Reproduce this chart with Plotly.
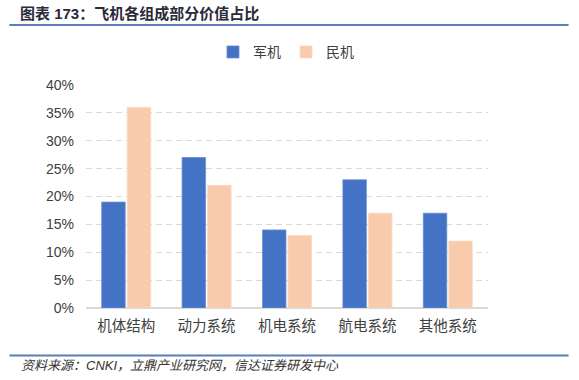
import plotly.graph_objects as go

categories = ["机体结构", "动力系统", "机电系统", "航电系统", "其他系统"]
military = [0.19, 0.27, 0.14, 0.23, 0.17]
civil = [0.36, 0.22, 0.13, 0.17, 0.12]
series_names = ["军机", "民机"]
y_ticks = [0, 0.05, 0.10, 0.15, 0.20, 0.25, 0.30, 0.35, 0.40]

W, H = 579, 380
L, R, T, B = 86.4, 91.4, 84.7, 72.0
pw, ph = W - L - R, H - T - B

def px(x):
    return (x - L) / pw

def py(y):
    return (H - B - y) / ph

FONT = "Liberation Sans, Arial, Noto Sans CJK SC, sans-serif"

fig = go.Figure()
fig.add_trace(go.Bar(x=categories, y=military, name=series_names[0],
                     marker=dict(color="#4472C4", line=dict(color="#6a8fd3", width=0.8))))
fig.add_trace(go.Bar(x=categories, y=civil, name=series_names[1],
                     marker=dict(color="#F8CBAD", line=dict(color="#fbd9c3", width=0.8))))

fig.update_layout(
    width=W, height=H,
    margin=dict(l=L, r=R, t=T, b=B, autoexpand=False),
    paper_bgcolor="white", plot_bgcolor="white",
    barmode="group", bargap=0.365, bargroupgap=0.08,
    font=dict(family=FONT, color="#404040", size=13),
    showlegend=True,
    legend=dict(orientation="h", x=px(286), xanchor="center", y=py(52), yanchor="middle",
                font=dict(size=14, color="#404040"), itemclick=False),
    title=dict(text="<b>图表 173：飞机各组成部分价值占比</b>", x=20 / W, xref="container",
               xanchor="left", y=1 - 14 / H, yref="container", yanchor="middle",
               font=dict(size=15, color="#2a2a3a", family="Liberation Sans, Noto Sans CJK SC")),
)

fig.update_xaxes(showgrid=False, ticks="", tickfont=dict(size=14.5, color="#404040"),
                 showline=False, ticklabelstandoff=7)
fig.update_yaxes(range=[0, 0.4], tickvals=y_ticks, tickformat=".0%",
                 showgrid=True, gridcolor="#d9d9d9", griddash="6px,4px", gridwidth=1,
                 zeroline=True, zerolinecolor="#d9d9d9", zerolinewidth=1.5,
                 ticks="", tickfont=dict(size=14, color="#404040"), ticklabelstandoff=11)

# title / footer rules
for yy in (24.5, 355.5):
    fig.add_shape(type="line", xref="paper", yref="paper",
                  x0=px(10), x1=px(568), y0=py(yy), y1=py(yy),
                  line=dict(color="#5b7db8", width=2))

fig.add_annotation(text="<i>资料来源：CNKI，立鼎产业研究网，信达证券研发中心</i>",
                   xref="paper", yref="paper", x=px(20), y=py(366),
                   xanchor="left", yanchor="middle", showarrow=False,
                   font=dict(size=13, color="#333333"))

fig.write_html("out.html", config={"displayModeBar": False},
               post_script="document.body.style.margin='0';document.body.style.overflow='hidden';")
